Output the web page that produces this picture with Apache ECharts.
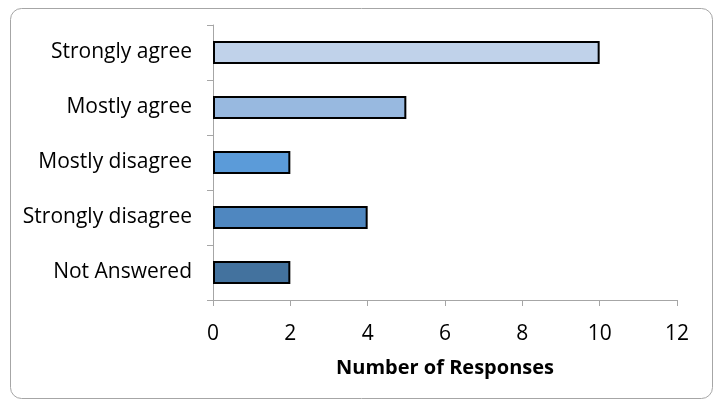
<!DOCTYPE html>
<html>
<head>
<meta charset="utf-8">
<script src="https://cdn.jsdelivr.net/npm/echarts@6/dist/echarts.min.js"></script>
<style>html,body{margin:0;padding:0;background:#fff;}#c{width:723px;height:409px;}</style>
</head>
<body>
<div id="c"></div>
<script>
const categories = ['Strongly agree', 'Mostly agree', 'Mostly disagree', 'Strongly disagree', 'Not Answered'];
const responses = [10, 5, 2, 4, 2];
const barColors = ['#C0D2EA', '#98B9E0', '#5B9BD9', '#4F87C0', '#43729E'];
const xTicks = [0, 2, 4, 6, 8, 10, 12];

const chart = echarts.init(document.getElementById('c'));
const font = '"Open Sans", "Liberation Sans", sans-serif';
chart.setOption({
  animation: false,
  backgroundColor: '#fff',
  graphic: [{
    type: 'rect', shape: { x: 10.5, y: 8.5, width: 702, height: 390, r: 11 },
    style: { fill: 'none', stroke: '#a6a6a6', lineWidth: 1 }
  }],
  grid: { left: 213, right: 46, top: 25, bottom: 109 },
  xAxis: {
    type: 'value', min: xTicks[0], max: xTicks[xTicks.length - 1], interval: 2,
    splitLine: { show: false },
    axisLine: { show: true, lineStyle: { color: '#a6a6a6', width: 1 } },
    axisTick: { show: true, length: 6, lineStyle: { color: '#a6a6a6' } },
    axisLabel: { color: '#000', fontFamily: font, fontSize: 21, margin: 24 },
    name: 'Number of Responses', nameLocation: 'middle', nameGap: 58,
    nameTextStyle: { color: '#000', fontFamily: font, fontSize: 20, fontWeight: 'bold' }
  },
  yAxis: {
    type: 'category', data: categories, inverse: true,
    axisLine: { show: true, lineStyle: { color: '#a6a6a6', width: 1 } },
    axisTick: { show: true, length: 6, lineStyle: { color: '#a6a6a6' } },
    axisLabel: { color: '#000', fontFamily: font, fontSize: 21, margin: 21 }
  },
  series: [{
    type: 'bar',
    barWidth: '42%',
    data: responses.map((v, i) => ({ value: v, itemStyle: { color: barColors[i] } })),
    itemStyle: { borderColor: '#000', borderWidth: 2 }
  }]
});
</script>
</body>
</html>
